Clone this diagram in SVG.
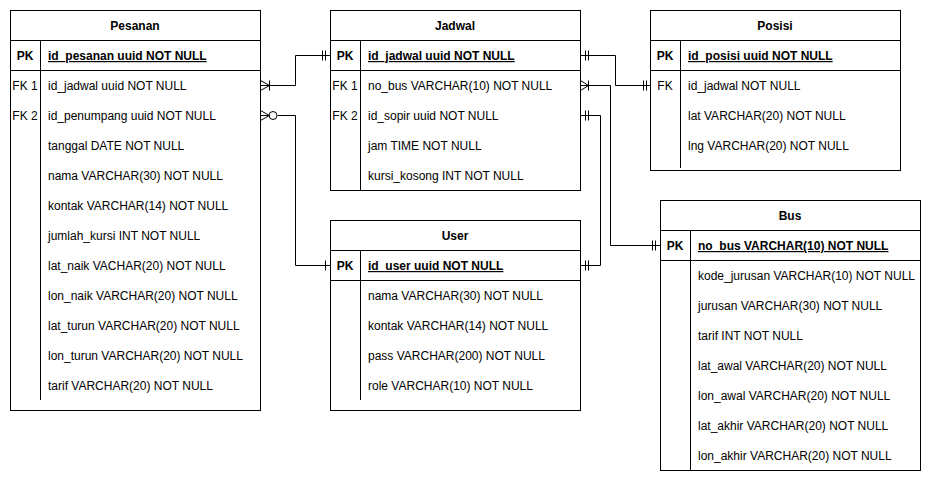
<svg xmlns="http://www.w3.org/2000/svg" width="931" height="481" viewBox="0 0 931 481">
<style>
text{font-family:"Liberation Sans",Arial,sans-serif;font-size:12px;fill:#000}
.h{text-anchor:middle;font-weight:bold}
.k{text-anchor:middle}
.b{font-weight:bold}
.u{font-weight:bold;text-decoration:underline}
.box{fill:#fff;stroke:#000;stroke-width:1}
.ln{fill:none;stroke:#000;stroke-width:1}
</style>
<rect width="931" height="481" fill="#fff"/>

<g id="connectors" class="ln">
  <!-- Pesanan FK1 -> Jadwal PK -->
  <path d="M260.5 85.5H295.5V55.5H330.5"/>
  <path d="M260.5 80.5L269.5 85.5L260.5 90.5M269.5 80.5V90.5"/>
  <path d="M322.5 50.5V60.5M325.5 50.5V60.5"/>
  <!-- Pesanan FK2 -> User PK -->
  <path d="M260.5 115.5H268.5M277.5 115.5H295.5V265.5H330.5"/>
  <path d="M260.5 110.5L269.5 115.5L260.5 120.5"/>
  <circle cx="273" cy="115.5" r="4"/>
  <path d="M325.5 260.5V270.5"/>
  <!-- Jadwal PK -> Posisi FK -->
  <path d="M580.5 55.5H615.5V85.5H650.5"/>
  <path d="M585.5 50.5V60.5M588.5 50.5V60.5"/>
  <path d="M643.5 80.5V90.5M646.5 80.5V90.5"/>
  <!-- Jadwal FK1 -> Bus PK -->
  <path d="M580.5 85.5H610.5V245.5H660.5"/>
  <path d="M580.5 80.5L588.5 85.5L580.5 90.5M588.5 80.5V90.5"/>
  <path d="M652.5 240.5V250.5M655.5 240.5V250.5"/>
  <!-- Jadwal FK2 -> User PK -->
  <path d="M580.5 115.5H600.5V265.5H580.5"/>
  <path d="M585.5 110.5V120.5M588.5 110.5V120.5"/>
  <path d="M585.5 260.5V270.5M588.5 260.5V270.5"/>
</g>

<g id="pesanan">
  <rect class="box" x="10.5" y="10.5" width="250" height="400"/>
  <path class="ln" d="M10.5 40.5H260.5M10.5 70.5H260.5M40.5 40.5V400"/>
  <text class="h" x="135" y="30">Pesanan</text>
  <text class="k b" x="25" y="60">PK</text>
  <text class="u" x="48" y="60">id_pesanan uuid NOT NULL</text>
  <text class="k" x="25" y="90">FK 1</text>
  <text x="48" y="90">id_jadwal uuid NOT NULL</text>
  <text class="k" x="25" y="120">FK 2</text>
  <text x="48" y="120">id_penumpang uuid NOT NULL</text>
  <text x="48" y="150">tanggal DATE NOT NULL</text>
  <text x="48" y="180">nama VARCHAR(30) NOT NULL</text>
  <text x="48" y="210">kontak VARCHAR(14) NOT NULL</text>
  <text x="48" y="240">jumlah_kursi INT NOT NULL</text>
  <text x="48" y="270">lat_naik VACHAR(20) NOT NULL</text>
  <text x="48" y="300">lon_naik VARCHAR(20) NOT NULL</text>
  <text x="48" y="330">lat_turun VARCHAR(20) NOT NULL</text>
  <text x="48" y="360">lon_turun VARCHAR(20) NOT NULL</text>
  <text x="48" y="390">tarif VARCHAR(20) NOT NULL</text>
</g>

<g id="jadwal">
  <rect class="box" x="330.5" y="10.5" width="250" height="180"/>
  <path class="ln" d="M330.5 40.5H580.5M330.5 70.5H580.5M360.5 40.5V190.5"/>
  <text class="h" x="455" y="30">Jadwal</text>
  <text class="k b" x="345" y="60">PK</text>
  <text class="u" x="368" y="60">id_jadwal uuid NOT NULL</text>
  <text class="k" x="345" y="90">FK 1</text>
  <text x="368" y="90">no_bus VARCHAR(10) NOT NULL</text>
  <text class="k" x="345" y="120">FK 2</text>
  <text x="368" y="120">id_sopir uuid NOT NULL</text>
  <text x="368" y="150">jam TIME NOT NULL</text>
  <text x="368" y="180">kursi_kosong INT NOT NULL</text>
</g>

<g id="posisi">
  <rect class="box" x="650.5" y="10.5" width="250" height="160"/>
  <path class="ln" d="M650.5 40.5H900.5M650.5 70.5H900.5M680.5 40.5V168"/>
  <text class="h" x="775" y="30">Posisi</text>
  <text class="k b" x="665" y="60">PK</text>
  <text class="u" x="688" y="60">id_posisi uuid NOT NULL</text>
  <text class="k" x="665" y="90">FK</text>
  <text x="688" y="90">id_jadwal NOT NULL</text>
  <text x="688" y="120">lat VARCHAR(20) NOT NULL</text>
  <text x="688" y="150">lng VARCHAR(20) NOT NULL</text>
</g>

<g id="user">
  <rect class="box" x="330.5" y="220.5" width="250" height="190"/>
  <path class="ln" d="M330.5 250.5H580.5M330.5 280.5H580.5M360.5 250.5V400"/>
  <text class="h" x="455" y="240">User</text>
  <text class="k b" x="345" y="270">PK</text>
  <text class="u" x="368" y="270">id_user uuid NOT NULL</text>
  <text x="368" y="300">nama VARCHAR(30) NOT NULL</text>
  <text x="368" y="330">kontak VARCHAR(14) NOT NULL</text>
  <text x="368" y="360">pass VARCHAR(200) NOT NULL</text>
  <text x="368" y="390">role VARCHAR(10) NOT NULL</text>
</g>

<g id="bus">
  <rect class="box" x="660.5" y="200.5" width="260" height="270"/>
  <path class="ln" d="M660.5 230.5H920.5M660.5 260.5H920.5M690.5 230.5V470.5"/>
  <text class="h" x="790" y="220">Bus</text>
  <text class="k b" x="675" y="250">PK</text>
  <text class="u" x="698" y="250">no_bus VARCHAR(10) NOT NULL</text>
  <text x="698" y="280">kode_jurusan VARCHAR(10) NOT NULL</text>
  <text x="698" y="310">jurusan VARCHAR(30) NOT NULL</text>
  <text x="698" y="340">tarif INT NOT NULL</text>
  <text x="698" y="370">lat_awal VARCHAR(20) NOT NULL</text>
  <text x="698" y="400">lon_awal VARCHAR(20) NOT NULL</text>
  <text x="698" y="430">lat_akhir VARCHAR(20) NOT NULL</text>
  <text x="698" y="460">lon_akhir VARCHAR(20) NOT NULL</text>
</g>
</svg>
